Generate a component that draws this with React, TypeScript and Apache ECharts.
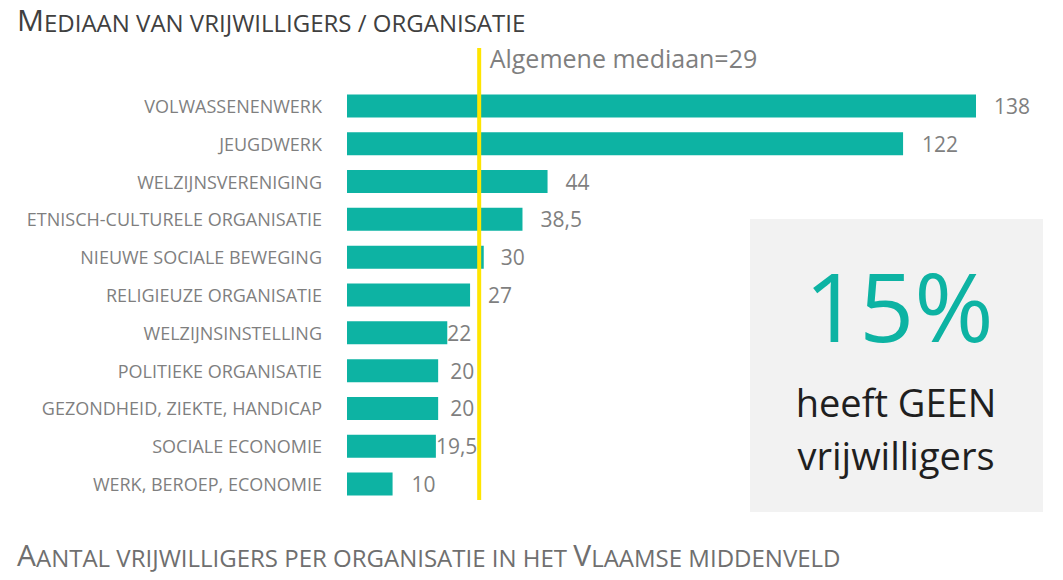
import React, { useEffect, useRef } from "react";
import * as echarts from "echarts";

const categories = [
  "VOLWASSENENWERK",
  "JEUGDWERK",
  "WELZIJNSVERENIGING",
  "ETNISCH-CULTURELE ORGANISATIE",
  "NIEUWE SOCIALE BEWEGING",
  "RELIGIEUZE ORGANISATIE",
  "WELZIJNSINSTELLING",
  "POLITIEKE ORGANISATIE",
  "GEZONDHEID, ZIEKTE, HANDICAP",
  "SOCIALE ECONOMIE",
  "WERK, BEROEP, ECONOMIE",
];
const values = [138, 122, 44, 38.5, 30, 27, 22, 20, 20, 19.5, 10];
const medianValue = 29;
const medianLabel = "Algemene mediaan=29";
const xMax = 138;
const noVolunteersPct = "15%";

// styling: per-bar label gap (px), as placed in the original
const labelGaps = [18, 19, 18, 18, 17, 18, 0, 12, 12, 0, 19];

const TEAL = "#0DB3A3";
const GRAY = "#7f7f7f";
const FONT = "'Open Sans', 'Noto Sans', sans-serif";

export default function App() {
  const ref = useRef<HTMLDivElement>(null);
  useEffect(() => {
    document.body.style.margin = "0";
    const chart = echarts.init(ref.current!, null, { renderer: "svg" });
    const option: any = {
      animation: false,
      backgroundColor: "#ffffff",
      textStyle: { fontFamily: FONT },
      grid: [
        { left: 347, right: 87, top: 87, bottom: 77, containLabel: false },
        { left: 347, right: 87, top: 48, bottom: 80, containLabel: false },
      ],
      xAxis: [
        { type: "value", gridIndex: 0, min: 0, max: xMax, show: false },
        { type: "value", gridIndex: 1, min: 0, max: xMax, show: false },
      ],
      yAxis: [
        {
          type: "category",
          gridIndex: 0,
          data: categories,
          inverse: true,
          axisLine: { show: false },
          axisTick: { show: false },
          splitLine: { show: false },
          axisLabel: {
            margin: 25,
            color: GRAY,
            fontSize: 18,
            fontFamily: FONT,
          },
        },
        { type: "value", gridIndex: 1, min: 0, max: 1, show: false },
      ],
      series: [
        {
          type: "bar",
          xAxisIndex: 0,
          yAxisIndex: 0,
          barWidth: 23,
          data: values.map((v, i) => ({
            value: v,
            label: { distance: labelGaps[i] },
          })),
          itemStyle: { color: TEAL },
          label: {
            show: true,
            position: "right",
            color: GRAY,
            fontSize: 21,
            fontFamily: FONT,
            formatter: (p: any) => String(p.value).replace(".", ","),
          },
        },
        {
          type: "line",
          xAxisIndex: 1,
          yAxisIndex: 1,
          z: 5,
          symbol: "circle",
          symbolSize: 1,
          showSymbol: true,
          itemStyle: { color: "rgba(0,0,0,0)" },
          lineStyle: { color: "#FFE500", width: 4 },
          data: [
            { value: [medianValue, 0] },
            {
              value: [medianValue, 1],
              label: {
                show: true,
                position: "right",
                distance: 10,
                offset: [0, 10],
                color: GRAY,
                fontSize: 25,
                fontFamily: FONT,
                formatter: medianLabel,
              },
            },
          ],
        },
      ],
      graphic: [
        {
          type: "text",
          left: 17,
          top: 4,
          style: {
            text: "{a|M}{b|EDIAAN VAN VRIJWILLIGERS / ORGANISATIE}",
            rich: {
              a: { fontSize: 30, fill: "#404040", fontFamily: FONT, verticalAlign: "bottom" },
              b: { fontSize: 24, fill: "#404040", fontFamily: FONT, verticalAlign: "bottom" },
            },
          },
        },
        {
          type: "text",
          left: 17,
          top: 539,
          style: {
            text: "{a|A}{b|ANTAL VRIJWILLIGERS PER ORGANISATIE IN HET }{a|V}{b|LAAMSE MIDDENVELD}",
            rich: {
              a: { fontSize: 30, fill: "#6f6f6f", fontFamily: FONT, verticalAlign: "bottom" },
              b: { fontSize: 24, fill: "#6f6f6f", fontFamily: FONT, verticalAlign: "bottom" },
            },
          },
        },
        {
          type: "rect",
          shape: { x: 750, y: 219, width: 293, height: 293 },
          style: { fill: "#F2F2F2" },
          z: -1,
        },
        {
          type: "text",
          x: 899,
          y: 304,
          style: {
            text: noVolunteersPct,
            fill: TEAL,
            fontSize: 96,
            fontFamily: FONT,
            align: "center",
            verticalAlign: "middle",
          },
        },
        {
          type: "text",
          x: 896,
          y: 402,
          style: {
            text: "heeft GEEN",
            fill: "#1f1f1f",
            fontSize: 38,
            fontFamily: FONT,
            align: "center",
            verticalAlign: "middle",
          },
        },
        {
          type: "text",
          x: 896,
          y: 455,
          style: {
            text: "vrijwilligers",
            fill: "#1f1f1f",
            fontSize: 38,
            fontFamily: FONT,
            align: "center",
            verticalAlign: "middle",
          },
        },
      ],
    };
    chart.setOption(option);
    return () => chart.dispose();
  }, []);
  return <div ref={ref} style={{ width: 1063, height: 580 }} />;
}
